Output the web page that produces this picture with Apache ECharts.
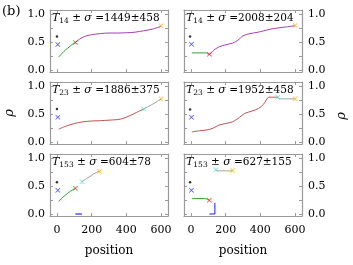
<!DOCTYPE html>
<html><head><meta charset="utf-8">
<script src="https://cdn.jsdelivr.net/npm/echarts@6/dist/echarts.min.js"></script>
<style>html,body{margin:0;padding:0;background:#fff}#c{width:353px;height:265px}</style>
</head><body><div id="c"></div>
<script>
// ---- axes ----
const xTicks = [0, 200, 400, 600];
const yTicks = [0, 0.25, 0.5, 0.75, 1];
const yLabels = [0, 0.5, 1];
// ---- panel titles ----
const subIdx = ['14', '14', '23', '23', '153', '153'];
const stats = ['1449±458', '2008±204', '1886±375', '1952±458', '604±78', '627±155'];
// ---- start markers (black *, blue x) ----
const blackPts = [[0, 0.60], [-5, 0.60], [0, 0.59], [-5, 0.58], [0, 0.565], [-5, 0.565]];
const bluePts = [[5, 0.455], [3, 0.46], [5, 0.44], [3, 0.44], [5, 0.425], [3, 0.425]];
// ---- panel 1 (top left) ----
const p1Green = [[10, 0.23], [30, 0.30], [50, 0.36], [70, 0.41], [90, 0.46], [106, 0.49]];
const p1Red = [[106, 0.49]];
const p1Purple = [[106, 0.49], [130, 0.55], [160, 0.60], [200, 0.63], [250, 0.65], [300, 0.66], [350, 0.66], [400, 0.665], [450, 0.675], [500, 0.70], [550, 0.73], [600, 0.78]];
const p1Orange = [[600, 0.79]];
// ---- panel 2 (top right) ----
const p2Green = [[5, 0.305], [90, 0.305]];
const p2Red = [[106, 0.28]];
const p2Purple = [[90, 0.305], [106, 0.28], [130, 0.35], [160, 0.41], [200, 0.45], [240, 0.48], [270, 0.53], [300, 0.61], [340, 0.65], [380, 0.67], [420, 0.70], [460, 0.73], [500, 0.75], [550, 0.77], [600, 0.79]];
const p2Orange = [[600, 0.795]];
// ---- panel 3 (middle left) ----
const p3Brown = [[10, 0.23], [50, 0.28], [100, 0.33], [150, 0.36], [200, 0.375], [250, 0.38], [300, 0.39], [350, 0.40], [380, 0.42], [420, 0.47], [460, 0.53], [500, 0.59]];
const p3Cyan = [[500, 0.59]];
const p3Gray = [[500, 0.59], [530, 0.64], [560, 0.69], [580, 0.73], [600, 0.77]];
const p3Orange = [[600, 0.77]];
// ---- panel 4 (middle right) ----
const p4Brown = [[5, 0.18], [50, 0.20], [100, 0.22], [130, 0.25], [160, 0.30], [200, 0.33], [240, 0.36], [280, 0.44], [310, 0.51], [350, 0.55], [390, 0.60], [420, 0.68], [450, 0.80], [500, 0.80]];
const p4Cyan = [[500, 0.80]];
const p4Gray = [[500, 0.80], [510, 0.77], [600, 0.77]];
const p4Orange = [[600, 0.77]];
// ---- panel 5 (bottom left) ----
const p5Green = [[10, 0.22], [30, 0.29], [50, 0.34], [70, 0.39], [90, 0.43], [106, 0.46]];
const p5Red = [[106, 0.46]];
const p5Cyan = [[144, 0.575]];
const p5Gray = [[144, 0.575], [170, 0.63], [200, 0.69], [220, 0.73], [246, 0.765]];
const p5Orange = [[246, 0.765]];
const p5Blue = [[106, 0.0], [144, 0.0]];
// ---- panel 6 (bottom right) ----
const p6Green = [[5, 0.275], [80, 0.275], [106, 0.245]];
const p6Red = [[106, 0.245]];
const p6Blue = [[106, 0.0], [138, 0.0], [138, 0.2]];
const p6Cyan = [[144, 0.79]];
const p6Gray = [[144, 0.79], [152, 0.77], [240, 0.77]];
const p6Orange = [[240, 0.775]];

const C = {green: '#2ca02c', purple: '#a53cb0', brown: '#bf4f4f', gray: '#a0a0a0', red: '#ff1010', orange: '#ffa500', cyan: '#48d8d0', blue: '#1a1aff', lav: '#7d7dff'};
const FONT = '"DejaVu Serif", "Liberation Serif", serif';
const FRAME = '#9a9a9a';
const XSYM = 'path://M0,1L1,0L5,4L9,0L10,1L6,5L10,9L9,10L5,6L1,10L0,9L4,5Z';

const lefts = [50, 184], tops = [10, 82, 154], W = 118, H = 62;
const grids = [], xAxes = [], yAxes = [], series = [], graphics = [];
for (let i = 0; i < 6; i++) {
  const col = i % 2, row = Math.floor(i / 2);
  grids.push({left: lefts[col], top: tops[row], width: W, height: H});
  const axLine = {show: true, onZero: false, lineStyle: {color: FRAME, width: 1.2}};
  const tick = (vals) => ({show: true, inside: true, length: 3, customValues: vals, lineStyle: {color: FRAME, width: 1}});
  xAxes.push({gridIndex: i, type: 'value', min: -40, max: 640, position: 'bottom', axisLine: axLine, splitLine: {show: false},
    axisTick: tick(xTicks),
    axisLabel: {show: row === 2, customValues: xTicks, margin: 9, color: '#000', fontFamily: FONT, fontSize: 11},
    name: row === 2 ? 'position' : '', nameLocation: 'middle', nameGap: 29, nameTextStyle: {fontFamily: FONT, fontSize: 12, color: '#000'}});
  xAxes.push({gridIndex: i, type: 'value', min: -40, max: 640, position: 'top', axisLine: axLine, splitLine: {show: false},
    axisTick: tick(xTicks), axisLabel: {show: false}});
  yAxes.push({gridIndex: i, type: 'value', min: -0.036, max: 1.071, position: 'left', axisLine: axLine, splitLine: {show: false},
    axisTick: tick(yTicks),
    axisLabel: {show: col === 0, customValues: yLabels, margin: 5, color: '#000', fontFamily: FONT, fontSize: 11, formatter: v => v.toFixed(1)}});
  yAxes.push({gridIndex: i, type: 'value', min: -0.036, max: 1.071, position: 'right', axisLine: axLine, splitLine: {show: false},
    axisTick: tick(yTicks),
    axisLabel: {show: col === 1, customValues: yLabels, margin: 6, color: '#000', fontFamily: FONT, fontSize: 11, formatter: v => v.toFixed(1)}});
  graphics.push({type: 'text', x: lefts[col] + 2, y: tops[row] + 1,
    style: {text: '{it|T}{sub|' + subIdx[i] + '} ± {it|σ} =' + stats[i], fill: '#000', font: '10.5px ' + FONT,
      rich: {it: {fontStyle: 'italic', fontFamily: FONT, fontSize: 11, lineHeight: 14, verticalAlign: 'middle'},
             sub: {fontFamily: FONT, fontSize: 7.5, lineHeight: 14, verticalAlign: 'bottom'}}}});
}
const xi = i => 2 * i, yi = i => 2 * i;
function addLine(i, data, color, w) {
  series.push({type: 'line', xAxisIndex: xi(i), yAxisIndex: yi(i), data: data, symbol: 'none', smooth: 0.3,
    lineStyle: {color: color, width: w || 1}, silent: true, animation: false, z: 2});
}
function addMark(i, data, color, sym, size) {
  series.push({type: 'scatter', xAxisIndex: xi(i), yAxisIndex: yi(i), data: data, symbol: sym || XSYM, symbolSize: size || 5,
    itemStyle: {color: color}, silent: true, animation: false, z: 3});
}
for (let i = 0; i < 6; i++) {
  addMark(i, [blackPts[i]], '#000', 'circle', 2.5);
  addMark(i, [bluePts[i]], C.blue);
}
addLine(0, p1Green, C.green); addLine(0, p1Purple, C.purple); addMark(0, p1Red, C.red); addMark(0, p1Orange, C.orange);
addLine(1, p2Green, C.green); addLine(1, p2Purple, C.purple); addMark(1, p2Red, C.red); addMark(1, p2Orange, C.orange);
addLine(2, p3Brown, C.brown); addLine(2, p3Gray, C.gray); addMark(2, p3Cyan, C.cyan); addMark(2, p3Orange, C.orange);
addLine(3, p4Brown, C.brown); addLine(3, p4Gray, C.gray); addMark(3, p4Cyan, C.cyan); addMark(3, p4Orange, C.orange);
addLine(4, p5Green, C.green); addLine(4, p5Gray, C.gray); addLine(4, p5Blue, C.lav, 2); addMark(4, p5Red, C.red); addMark(4, p5Cyan, C.cyan); addMark(4, p5Orange, C.orange);
addLine(5, p6Green, C.green); addLine(5, p6Gray, C.gray); addMark(5, p6Red, C.red); addMark(5, p6Cyan, C.cyan); addMark(5, p6Orange, C.orange);
series.push({type: 'line', xAxisIndex: xi(5), yAxisIndex: yi(5), data: p6Blue, symbol: 'none', lineStyle: {color: C.blue, width: 1}, silent: true, animation: false});

graphics.push({type: 'text', x: 2, y: 5, style: {text: '(b)', font: '13px ' + FONT, fill: '#000'}});
graphics.push({type: 'text', x: 10, y: 113, rotation: Math.PI / 2, style: {text: 'ρ', font: 'italic 13px ' + FONT, fill: '#000', align: 'center', verticalAlign: 'middle'}});
graphics.push({type: 'text', x: 342, y: 116, rotation: Math.PI / 2, style: {text: 'ρ', font: 'italic 13px ' + FONT, fill: '#000', align: 'center', verticalAlign: 'middle'}});

const chart = echarts.init(document.getElementById('c'), null, {renderer: 'canvas'});
chart.setOption({animation: false, grid: grids, xAxis: xAxes, yAxis: yAxes, series: series, graphic: graphics});
</script></body></html>
